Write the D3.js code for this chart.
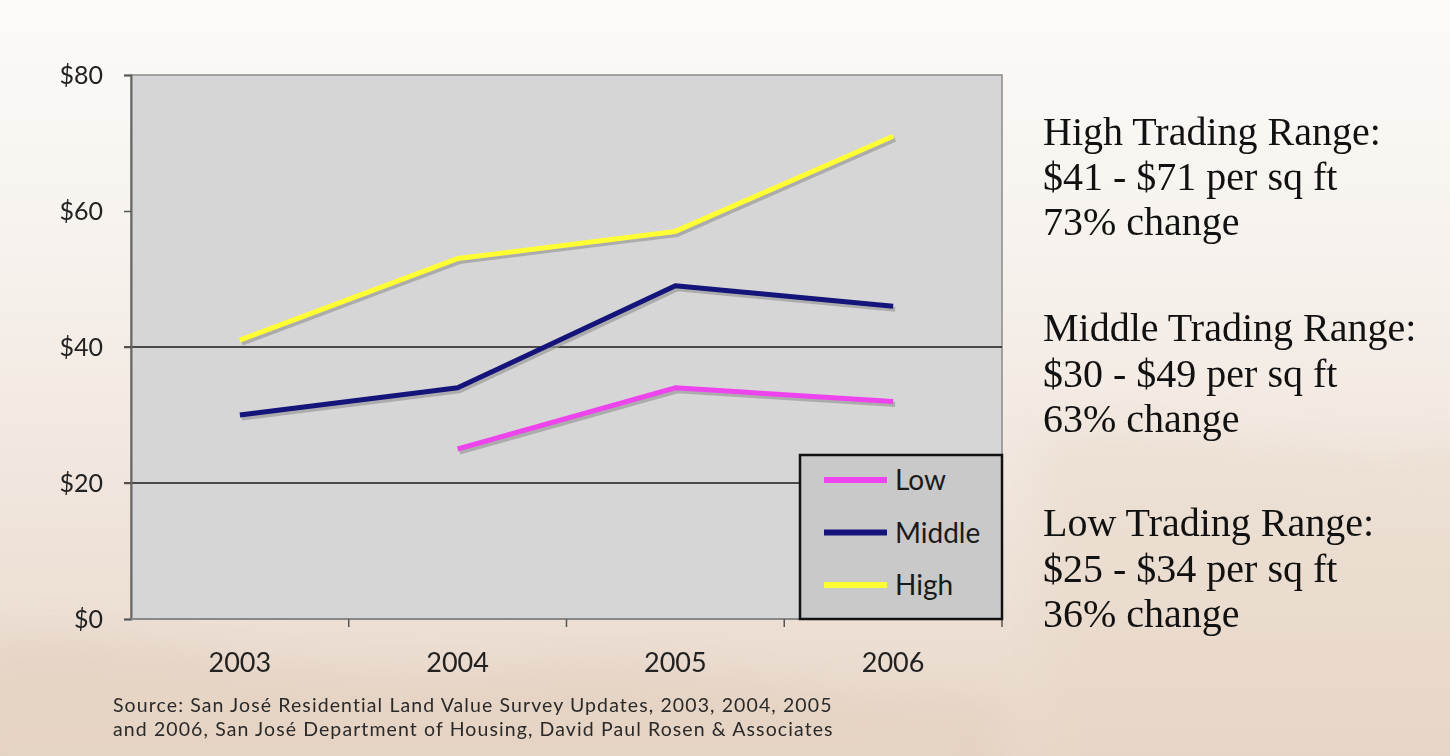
<!DOCTYPE html>
<html><head><meta charset="utf-8">
<script src="https://cdn.jsdelivr.net/npm/d3@7"></script>
<style>html,body{margin:0;padding:0;overflow:hidden;background:#f6efe8}</style>
</head><body>
<svg id="chart" width="1450" height="756"></svg>
<script>
const years = ["2003", "2004", "2005", "2006"];
const lowValues = [null, 25, 34, 32];
const middleValues = [30, 34, 49, 46];
const highValues = [41, 53, 57, 71];
const seriesNames = ["Low", "Middle", "High"];
const seriesColors = ["#ee44ee", "#14147a", "#ffff33"];
const yTicks = [0, 20, 40, 60, 80];
const notes = [
  ["High Trading Range:", "$41 - $71 per sq ft", "73% change"],
  ["Middle Trading Range:", "$30 - $49 per sq ft", "63% change"],
  ["Low Trading Range:", "$25 - $34 per sq ft", "36% change"]
];
const sourceLines = [
  "Source: San José Residential Land Value Survey Updates, 2003, 2004, 2005",
  "and 2006, San José Department of Housing, David Paul Rosen & Associates"
];

const series = [lowValues, middleValues, highValues].map((vals, i) => ({
  name: seriesNames[i], color: seriesColors[i],
  values: vals.map((v, j) => ({year: years[j], value: v}))
}));

const svg = d3.select("#chart");
const defs = svg.append("defs");
const bg = defs.append("linearGradient").attr("id","bg").attr("x1",0).attr("y1",0).attr("x2",0).attr("y2",1);
bg.append("stop").attr("offset","0%").attr("stop-color","#fcfbf9");
bg.append("stop").attr("offset","35%").attr("stop-color","#f6f1ec");
bg.append("stop").attr("offset","100%").attr("stop-color","#e9d8ca");
defs.append("filter").attr("id","blur").attr("x","-20%").attr("y","-20%").attr("width","140%").attr("height","140%")
  .append("feGaussianBlur").attr("stdDeviation",18);
svg.append("rect").attr("width",1450).attr("height",756).attr("fill","url(#bg)");
// faint swirl shapes in background
const swirl = svg.append("g").attr("filter","url(#blur)");
swirl.append("path").attr("d","M-40,650 C120,610 300,700 520,670 C700,650 820,710 1000,700 L1000,800 L-40,800 Z").attr("fill","#e2cdbb").attr("opacity",0.5);
swirl.append("path").attr("d","M1040,440 C1150,400 1300,480 1500,440 L1500,800 L1040,800 Z").attr("fill","#e6d3c3").attr("opacity",0.35);

const M = {left:131, right:1002, top:75, bottom:619};
const x = d3.scaleBand().domain(years).range([M.left, M.right]);
const y = d3.scaleLinear().domain([0, 80]).range([M.bottom, M.top]);

// plot area
svg.append("rect").attr("x",M.left).attr("y",M.top).attr("width",M.right-M.left).attr("height",M.bottom-M.top)
  .attr("fill","#d6d6d6").attr("stroke","#8a8a8a").attr("stroke-width",1.5);

// gridlines
svg.append("g").selectAll("line").data(yTicks.filter(t => t===20 || t===40)).join("line")
  .attr("x1",M.left-7).attr("x2",M.right).attr("y1",d=>y(d)).attr("y2",d=>y(d))
  .attr("stroke","#1a1a1a").attr("stroke-width",1.5);

// y axis
const yAxis = svg.append("g").attr("transform",`translate(${M.left},0)`)
  .call(d3.axisLeft(y).tickValues(yTicks).tickFormat(d=>"$"+d).tickSize(7).tickPadding(21));
yAxis.select(".domain").attr("stroke","#666").attr("stroke-width",2);
yAxis.selectAll(".tick line").attr("stroke","#555").attr("stroke-width",1.5);
yAxis.selectAll("text").attr("font-family","Lato, sans-serif").attr("font-size",25).attr("fill","#222");

// x axis: ticks at band edges
const xAxisG = svg.append("g").attr("transform",`translate(0,${M.bottom})`);
xAxisG.append("line").attr("x1",M.left).attr("x2",M.right).attr("stroke","#888").attr("stroke-width",2);
xAxisG.selectAll("line.tk").data(years.slice(1)).join("line").attr("class","tk")
  .attr("x1",d=>x(d)).attr("x2",d=>x(d)).attr("y1",0).attr("y2",8).attr("stroke","#555").attr("stroke-width",1.5);
xAxisG.append("line").attr("x1",M.right).attr("x2",M.right).attr("y1",0).attr("y2",8).attr("stroke","#555").attr("stroke-width",1.5);
xAxisG.selectAll("text").data(years).join("text")
  .attr("x",d=>x(d)+x.bandwidth()/2).attr("y",53).attr("text-anchor","middle")
  .attr("font-family","Lato, sans-serif").attr("font-size",27).attr("fill","#222").text(d=>d);

// lines
const line = d3.line().defined(d=>d.value!=null)
  .x(d=>x(d.year)+x.bandwidth()/2).y(d=>y(d.value));
const shadowG = svg.append("g").attr("transform","translate(2,3)");
shadowG.selectAll("path").data(series).join("path")
  .attr("d",d=>line(d.values)).attr("fill","none").attr("stroke","#9a9a9a").attr("stroke-opacity",0.7)
  .attr("stroke-width",5).attr("stroke-linejoin","round");
svg.append("g").selectAll("path").data(series).join("path")
  .attr("d",d=>line(d.values)).attr("fill","none").attr("stroke",d=>d.color)
  .attr("stroke-width",5).attr("stroke-linejoin","round");

// legend
const lg = svg.append("g");
lg.append("rect").attr("x",800).attr("y",455).attr("width",202).attr("height",164)
  .attr("fill","#c9c9c9").attr("stroke","#111").attr("stroke-width",2.5);
const lgItems = lg.selectAll("g.item").data(series).join("g").attr("class","item")
  .attr("transform",(d,i)=>`translate(0,${480 + i*52.5})`);
lgItems.append("line").attr("x1",824).attr("x2",887).attr("stroke",d=>d.color).attr("stroke-width",6);
lgItems.append("text").attr("x",895).attr("y",10).attr("font-family","Lato, sans-serif")
  .attr("font-size",28).attr("fill","#1a1a1a").text(d=>d.name);

// right notes
const baselines = [[145,190,235],[341,387,432],[536,582,627]];
notes.forEach((grp,i)=>{
  svg.append("g").selectAll("text").data(grp).join("text")
    .attr("x",1043).attr("y",(d,j)=>baselines[i][j])
    .attr("font-family","'Liberation Serif', 'Times New Roman', serif").attr("font-size",40)
    .attr("fill","#111").text(d=>d);
});

// source
svg.append("g").selectAll("text").data(sourceLines).join("text")
  .attr("x",113).attr("y",(d,i)=>712+i*24)
  .attr("font-family","Lato, sans-serif").attr("font-size",19.5).attr("letter-spacing",1.1)
  .attr("fill","#2a2a2a").text(d=>d);
</script>
</body></html>
